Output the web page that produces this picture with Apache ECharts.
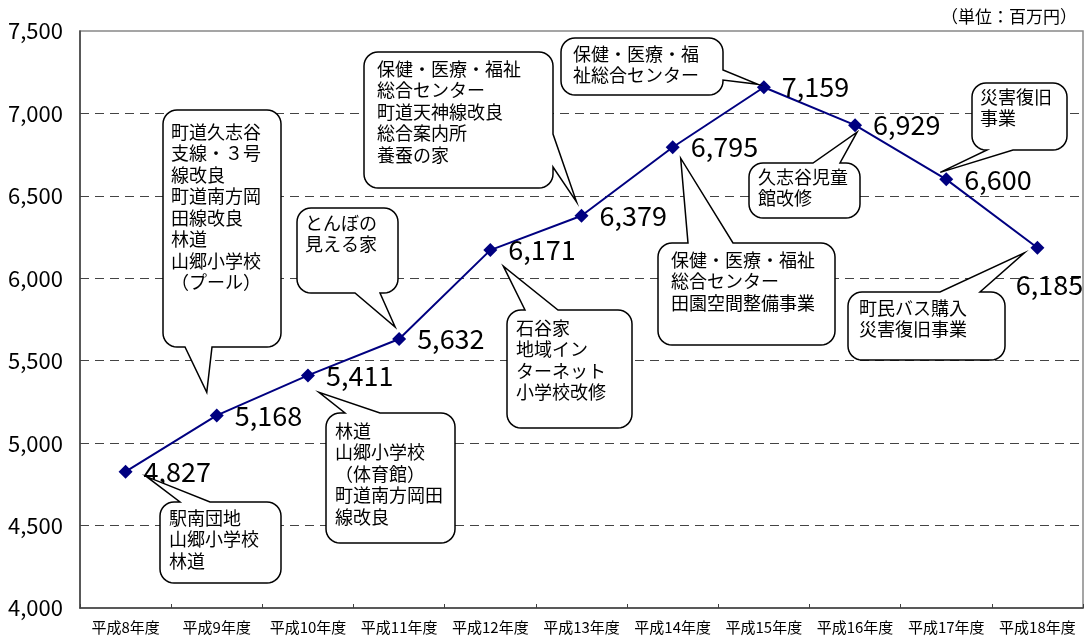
<!DOCTYPE html>
<html><head><meta charset="utf-8">
<script src="https://cdn.jsdelivr.net/npm/echarts@6/dist/echarts.min.js"></script>
<style>html,body{margin:0;padding:0;background:#fff}#c{width:1084px;height:638px}</style>
</head><body><div id="c"></div>
<script>
// ---- data ----
const categories = ['平成8年度','平成9年度','平成10年度','平成11年度','平成12年度','平成13年度','平成14年度','平成15年度','平成16年度','平成17年度','平成18年度'];
const values = [4827, 5168, 5411, 5632, 6171, 6379, 6795, 7159, 6929, 6600, 6185];
const unitLabel = '（単位：百万円）';
const calloutTexts = [
  '駅南団地\n山郷小学校\n林道',
  '町道久志谷\n支線・３号\n線改良\n町道南方岡\n田線改良\n林道\n山郷小学校\n（プール）',
  '林道\n山郷小学校\n（体育館）\n町道南方岡田\n線改良',
  'とんぼの\n見える家',
  '石谷家\n地域イン\nターネット\n小学校改修',
  '保健・医療・福祉\n総合センター\n町道天神線改良\n総合案内所\n養蚕の家',
  '保健・医療・福祉\n総合センター\n田園空間整備事業',
  '保健・医療・福\n祉総合センター',
  '久志谷児童\n館改修',
  '災害復旧\n事業',
  '町民バス購入\n災害復旧事業'
];

// ---- layout of callouts (pixels) ----
const boxLayout = [
  [160,502,281,583],
  [163,110,281,347],
  [326,413,455,543],
  [297,208,398,293],
  [507,310,632,428],
  [364,52,553,188],
  [658,243,835,345],
  [561,38,723,95],
  [749,163,860,218],
  [972,83,1067,150],
  [848,292,1005,360]
];
const tailLayout = [
  ['top',180,210,[21,5]],
  ['bottom',185,212,[-10,-23]],
  ['top',345,380,[11,17]],
  ['bottom',355,380,[-4,-12]],
  ['top',525,558,[13,16]],
  ['right',134,167,[-5,-14]],
  ['top',688,733,[8,11]],
  ['right',70,80,[-6,-3]],
  ['top',813,840,[2,7]],
  ['bottom',987,1013,[-6,-7]],
  ['top',940,980,[-13,5]]
];
const textLayout = [
  [169,518],[171,132],[335,431],[305,223],[516,328],[377,69],[671,260],[573,54],[758,177],[980,97],[859,308]
];

const FONT = '"Noto Sans CJK JP", "Noto Sans", sans-serif';

const chart = echarts.init(document.getElementById('c'), null, {renderer:'canvas'});

const seriesData = values.map((v, i) => {
  if (i === values.length - 1) {
    return {value: v, label: {position: 'bottom', distance: 16, offset: [12, 0]}};
  }
  return v;
});

chart.setOption({
  animation: false,
  backgroundColor: '#fff',
  grid: {left: 80, right: 1, top: 31, bottom: 30, show: true, borderColor: '#888', borderWidth: 1.5},
  xAxis: {
    type: 'category', data: categories, boundaryGap: true,
    axisLine: {lineStyle: {color: '#404040', width: 1.5}},
    axisTick: {show: true, inside: true, length: 4, lineStyle: {color: '#404040'}},
    axisLabel: {interval: 0, fontSize: 15, color: '#000', margin: 12, fontFamily: FONT},
    splitLine: {show: false}
  },
  yAxis: {
    type: 'value', min: 4000, max: 7500, interval: 500,
    axisLine: {show: true, lineStyle: {color: '#404040', width: 1.5}},
    axisTick: {show: false},
    axisLabel: {fontSize: 22, color: '#000', margin: 17, fontFamily: FONT,
      formatter: v => v.toLocaleString('en-US')},
    splitLine: {show: true, showMinLine: false, showMaxLine: false,
      lineStyle: {type: [9, 6], color: '#444', width: 1}}
  },
  series: [{
    type: 'line', data: seriesData,
    symbol: 'diamond', symbolSize: 14,
    lineStyle: {color: '#000080', width: 2},
    itemStyle: {color: '#000080'},
    z: 5,
    label: {show: true, position: 'right', distance: 11, fontSize: 27, color: '#000', fontFamily: FONT,
      formatter: p => p.value.toLocaleString('en-US')}
  }]
});

function bubblePoints(b, tail, tip, r) {
  const [x0, y0, x1, y1] = b;
  const pts = [];
  const arc = (cx, cy, a0, a1) => {
    const n = 8;
    for (let k = 0; k <= n; k++) {
      const a = (a0 + (a1 - a0) * k / n) * Math.PI / 180;
      pts.push([cx + r * Math.cos(a), cy + r * Math.sin(a)]);
    }
  };
  const [edge, a, c] = tail;
  const lo = Math.min(a, c), hi = Math.max(a, c);
  arc(x0 + r, y0 + r, 180, 270);
  if (edge === 'top') { pts.push([lo, y0], tip, [hi, y0]); }
  arc(x1 - r, y0 + r, 270, 360);
  if (edge === 'right') { pts.push([x1, lo], tip, [x1, hi]); }
  arc(x1 - r, y1 - r, 0, 90);
  if (edge === 'bottom') { pts.push([hi, y1], tip, [lo, y1]); }
  arc(x0 + r, y1 - r, 90, 180);
  if (edge === 'left') { pts.push([x0, hi], tip, [x0, lo]); }
  return pts;
}

const LH = 21.5;
const elements = [];
calloutTexts.forEach((txt, i) => {
  const p = chart.convertToPixel({seriesIndex: 0}, [i, values[i]]);
  const off = tailLayout[i][3];
  const tip = [p[0] + off[0], p[1] + off[1]];
  const b = boxLayout[i];
  const r = Math.min(14, (b[3] - b[1]) / 3);
  elements.push({
    type: 'polygon', z: 100,
    shape: {points: bubblePoints(b, tailLayout[i], tip, r)},
    style: {fill: '#fff', stroke: '#000', lineWidth: 1.5}
  });
  elements.push({
    type: 'text', z: 101,
    x: textLayout[i][0], y: textLayout[i][1] - LH / 2,
    style: {text: txt, font: '18px ' + FONT, lineHeight: LH, fill: '#000', verticalAlign: 'top', align: 'left'}
  });
});
elements.push({
  type: 'text', z: 101, x: 1077, y: 17,
  style: {text: unitLabel, font: '17px ' + FONT, fill: '#000', align: 'right', verticalAlign: 'middle'}
});
chart.setOption({graphic: {elements: elements}});
</script>
</body></html>
